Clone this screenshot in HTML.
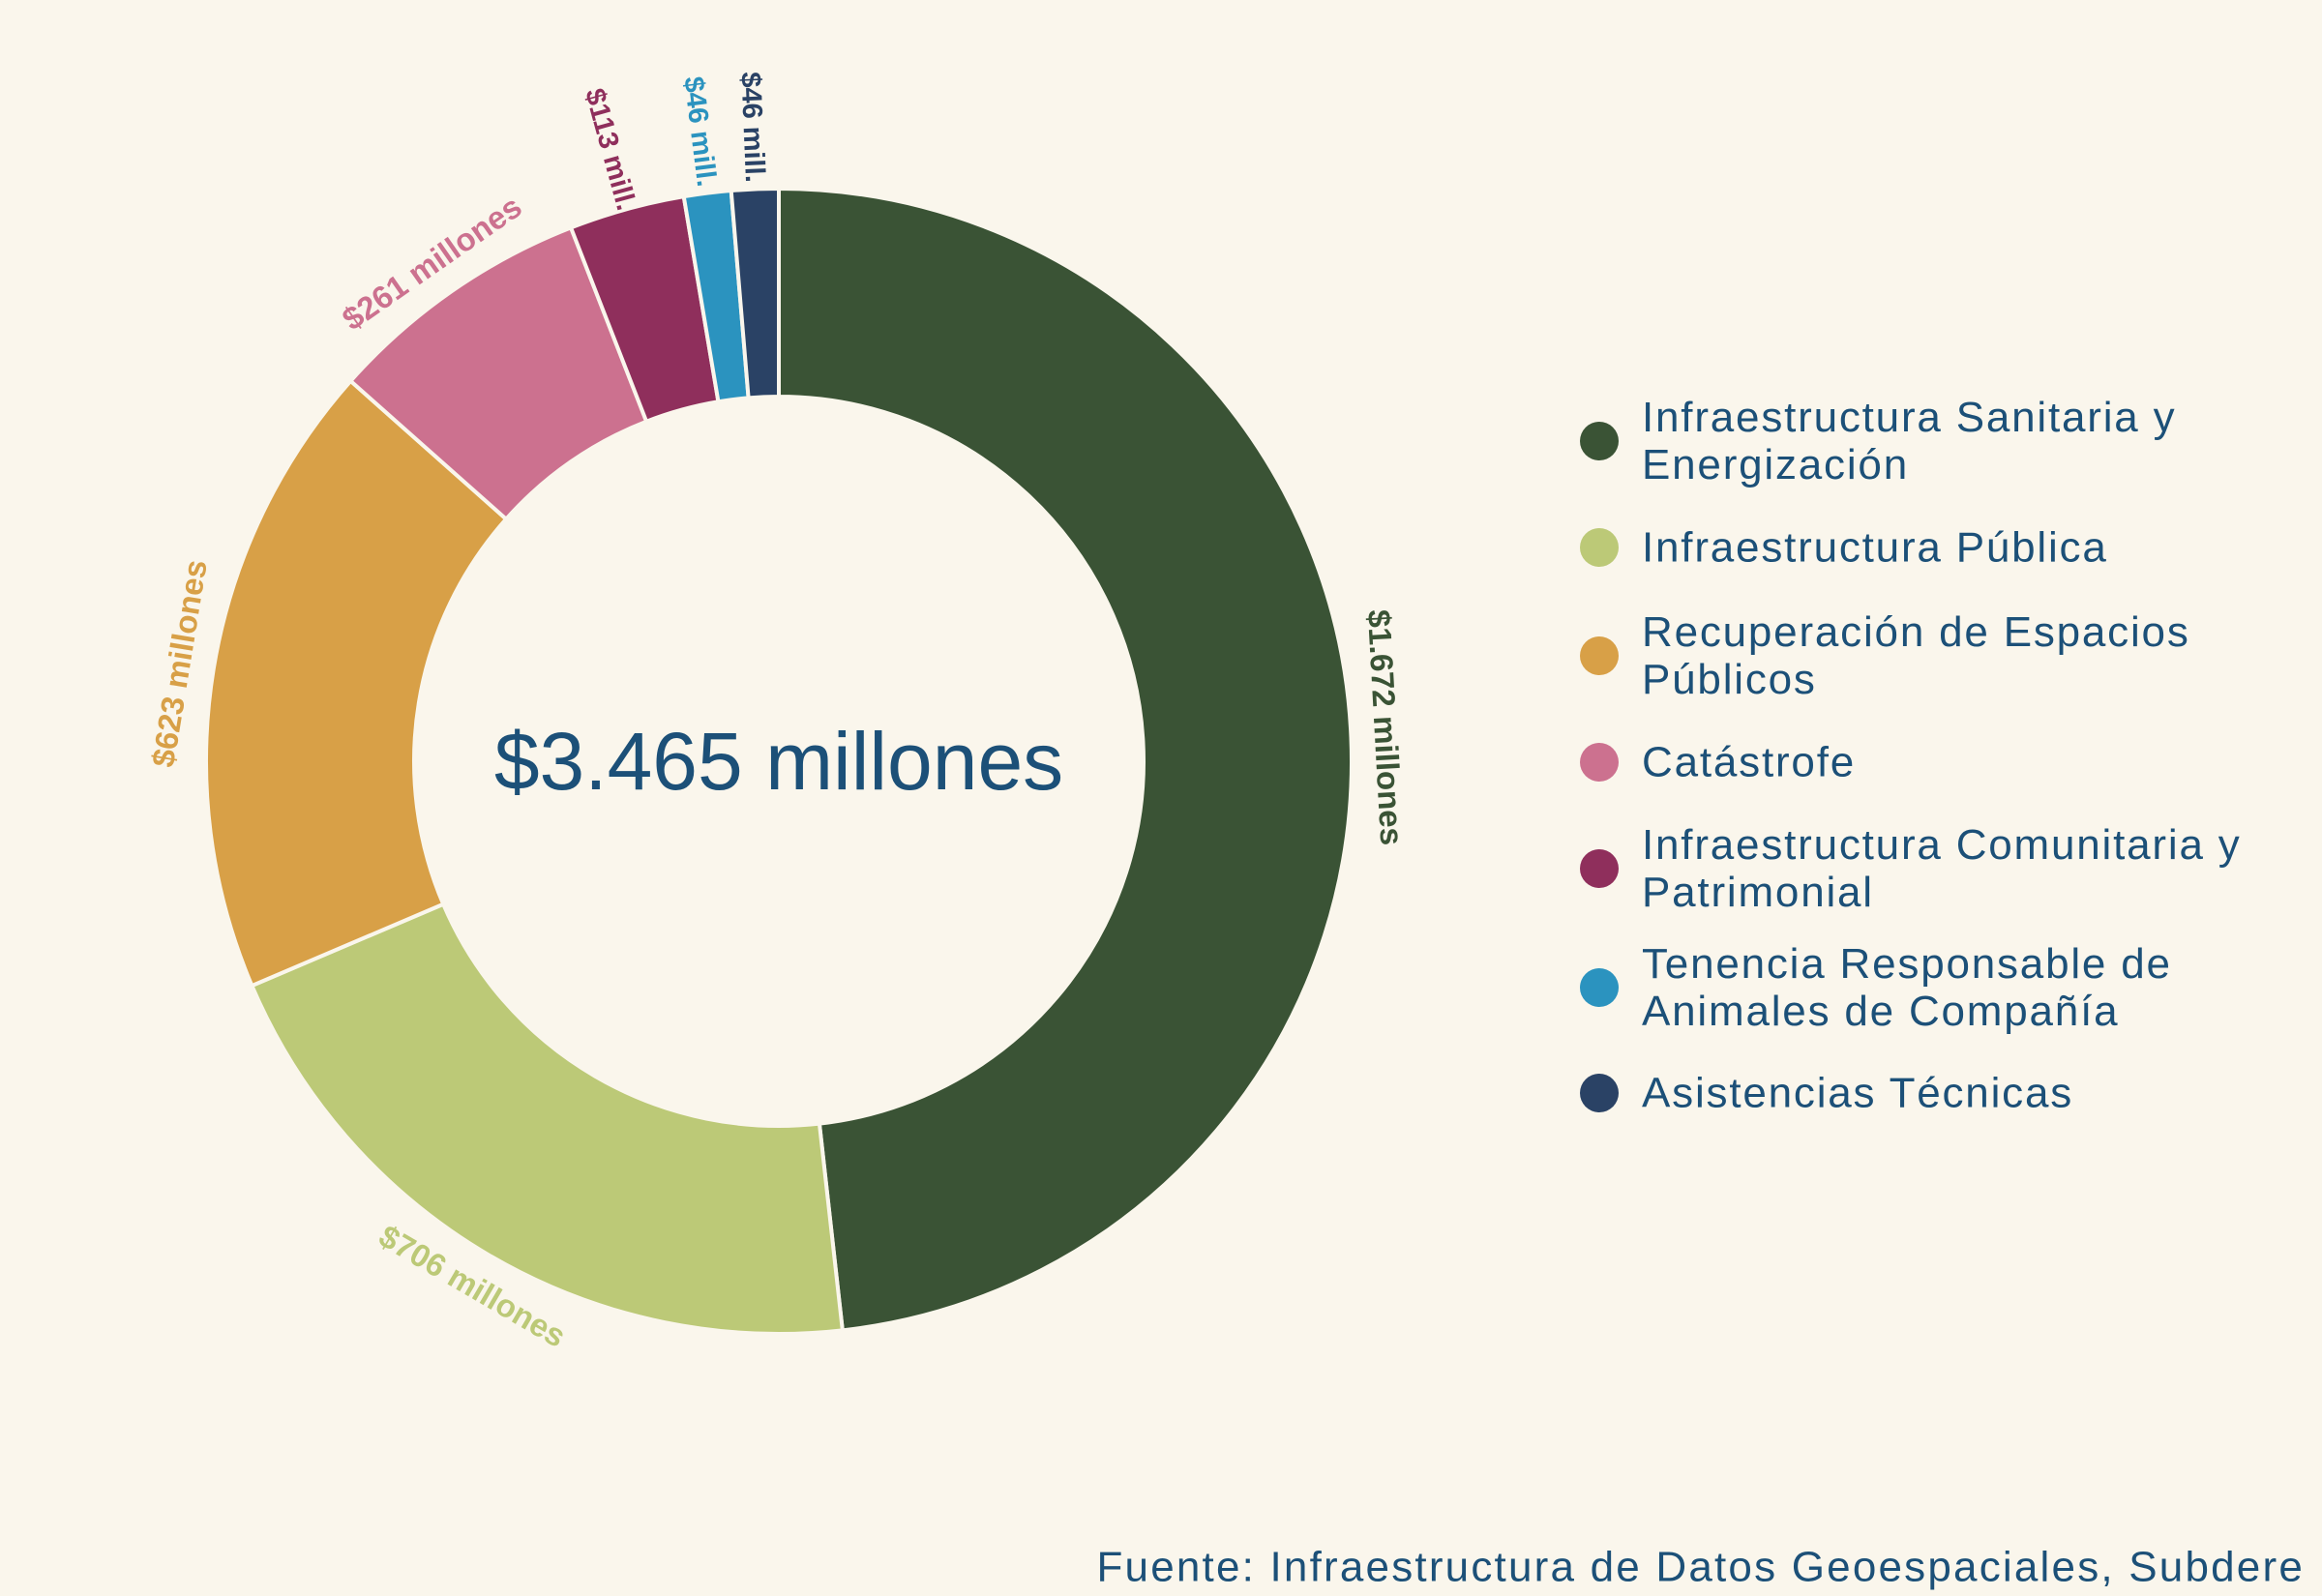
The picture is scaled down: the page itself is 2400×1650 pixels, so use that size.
<!DOCTYPE html>
<html><head><meta charset="utf-8"><style>
html,body{margin:0;padding:0;background:#faf6ec;}
svg{display:block;font-family:"Liberation Sans",sans-serif;}
</style></head><body>
<svg id="chart" width="2400" height="1650" viewBox="0 0 2400 1650" xmlns="http://www.w3.org/2000/svg">
<rect width="2400" height="1650" fill="#faf6ec"/>
<g id="slices"></g>
<g id="labels"></g>
<text x="805" y="787" text-anchor="middle" dominant-baseline="central" font-size="84" fill="#1c5078">$3.465 millones</text>
<g id="legend"></g>
<text x="2382" y="1620" text-anchor="end" dominant-baseline="central" font-size="44" letter-spacing="2.2" fill="#1c5078">Fuente: Infraestructura de Datos Geoespaciales, Subdere</text>
</svg>
<script>
const categories=["Infraestructura Sanitaria y Energización","Infraestructura Pública","Recuperación de Espacios Públicos","Catástrofe","Infraestructura Comunitaria y Patrimonial","Tenencia Responsable de Animales de Compañía","Asistencias Técnicas"];
const legendLines=[["Infraestructura Sanitaria y","Energización"],["Infraestructura Pública"],["Recuperación de Espacios","Públicos"],["Catástrofe"],["Infraestructura Comunitaria y","Patrimonial"],["Tenencia Responsable de","Animales de Compañía"],["Asistencias Técnicas"]];
const values=[1672,706,623,261,113,46,46];
const valueLabels=["$1.672 millones","$706 millones","$623 millones","$261 millones","$113 mill.","$46 mill.","$46 mill."];
const colors=["#3a5335","#bcc977","#d8a047","#cc718f","#8f2f5c","#2b93bf","#2a4265"];
const NS="http://www.w3.org/2000/svg";
const cx=805,cy=787,R=592,r0=377;
const total=values.reduce((a,b)=>a+b,0);
function pt(a,rad){return [cx+rad*Math.sin(a),cy-rad*Math.cos(a)];}
const gs=document.getElementById('slices'),gl=document.getElementById('labels'),gL=document.getElementById('legend');
let acc=0;
values.forEach((v,i)=>{
  const a0=acc/total*2*Math.PI; acc+=v; const a1=acc/total*2*Math.PI;
  const big=(a1-a0)>Math.PI?1:0;
  const p1=pt(a0,R),p2=pt(a1,R),p3=pt(a1,r0),p4=pt(a0,r0);
  const p=document.createElementNS(NS,'path');
  p.setAttribute('d',`M${p1[0]},${p1[1]} A${R},${R} 0 ${big} 1 ${p2[0]},${p2[1]} L${p3[0]},${p3[1]} A${r0},${r0} 0 ${big} 0 ${p4[0]},${p4[1]} Z`);
  p.setAttribute('fill',colors[i]);p.setAttribute('stroke','#faf6ec');p.setAttribute('stroke-width','4');
  
  
  gs.appendChild(p);
  const am=(a0+a1)/2, deg=am*180/Math.PI;
  const small=v/total<0.05;
  const lr=small?R+64:R+36;
  const lp=pt(am,lr);
  let rot;
  if(small) rot=deg-270;
  else if(deg<120) rot=deg;
  else if(deg<=270) rot=deg-180;
  else rot=deg-360;
  const t=document.createElementNS(NS,'text');
  t.setAttribute('x',lp[0]);t.setAttribute('y',lp[1]);
  t.setAttribute('text-anchor','middle');t.setAttribute('dominant-baseline','central');
  t.setAttribute('font-size',small?'29':'33');t.setAttribute('font-weight','bold');
  t.setAttribute('fill',colors[i]);
  t.setAttribute('transform',`rotate(${rot} ${lp[0]} ${lp[1]})`);
  t.textContent=valueLabels[i];
  
  
  gl.appendChild(t);
});
const legY=[456,566,678,788,898,1021,1130];
categories.forEach((c,i)=>{
  const g=document.createElementNS(NS,'g');
  
  
  const ci=document.createElementNS(NS,'circle');
  ci.setAttribute('cx',1653);ci.setAttribute('cy',legY[i]);ci.setAttribute('r',20);ci.setAttribute('fill',colors[i]);
  
  
  g.appendChild(ci);
  const lines=legendLines[i];
  lines.forEach((ln,j)=>{
    const t=document.createElementNS(NS,'text');
    t.setAttribute('x',1697);t.setAttribute('y',legY[i]+(j-(lines.length-1)/2)*49);
    t.setAttribute('dominant-baseline','central');t.setAttribute('font-size','44');t.setAttribute('letter-spacing','1.8');t.setAttribute('fill','#1c5078');
    t.textContent=ln;
    
    
    g.appendChild(t);
  });
  gL.appendChild(g);
});
</script>
</body></html>
